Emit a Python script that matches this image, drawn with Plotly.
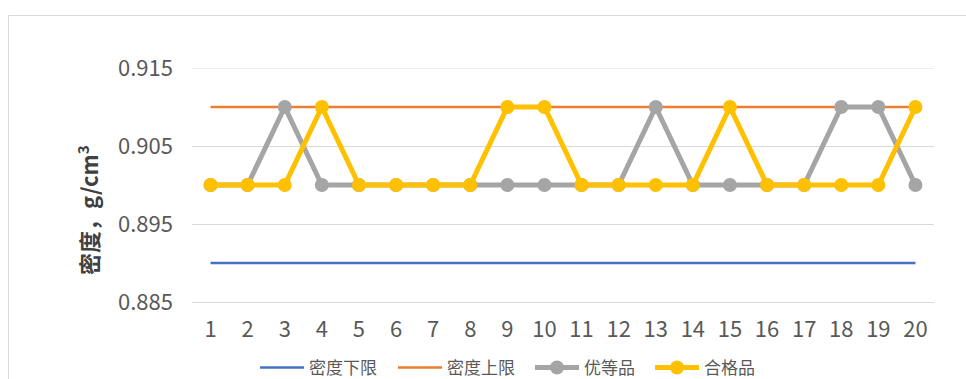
import plotly.graph_objects as go

categories = [str(i) for i in range(1, 21)]
lower_limit = [0.890] * 20
upper_limit = [0.910] * 20
premium = [0.900, 0.900, 0.910, 0.900, 0.900, 0.900, 0.900, 0.900, 0.900, 0.900,
           0.900, 0.900, 0.910, 0.900, 0.900, 0.900, 0.900, 0.910, 0.910, 0.900]
qualified = [0.900, 0.900, 0.900, 0.910, 0.900, 0.900, 0.900, 0.900, 0.910, 0.910,
             0.900, 0.900, 0.900, 0.900, 0.910, 0.900, 0.900, 0.900, 0.900, 0.910]
y_ticks = [0.885, 0.895, 0.905, 0.915]
y_tick_text = ["0.885", "0.895", "0.905", "0.915"]

FONT = "Noto Sans CJK SC"
TXT = "#595959"

fig = go.Figure()
fig.add_trace(go.Scatter(x=categories, y=lower_limit, name="密度下限", mode="lines",
                         line=dict(color="#4472C4", width=2.5), legend="legend"))
fig.add_trace(go.Scatter(x=categories, y=upper_limit, name="密度上限", mode="lines",
                         line=dict(color="#ED7D31", width=2.5), legend="legend2"))
fig.add_trace(go.Scatter(x=categories, y=premium, name="优等品", mode="lines+markers",
                         line=dict(color="#A5A5A5", width=5),
                         marker=dict(color="#A5A5A5", size=14), legend="legend3"))
fig.add_trace(go.Scatter(x=categories, y=qualified, name="合格品", mode="lines+markers",
                         line=dict(color="#FFC000", width=5),
                         marker=dict(color="#FFC000", size=14), legend="legend4"))

L, R, T, B = 192, 32, 68, 77
W, H = 966, 379
pw, ph = W - L - R, H - T - B

def px(xp):
    return (xp - L) / pw

def py(yp):
    return (H - B - yp) / ph

def leg(xpix):
    return dict(orientation="h", x=px(xpix), xanchor="left", y=py(368), yanchor="middle",
                font=dict(size=17, color=TXT, family=FONT), itemwidth=44,
                bgcolor="rgba(0,0,0,0)")

fig.update_layout(
    width=W, height=H,
    margin=dict(l=L, r=R, t=T, b=B, autoexpand=False),
    paper_bgcolor="white", plot_bgcolor="white",
    font=dict(family=FONT, color=TXT, size=20),
    showlegend=True,
    legend=leg(255), legend2=leg(393), legend3=leg(530), legend4=leg(650),
    xaxis=dict(type="category", range=[-0.5, 19.5], showgrid=False, showline=True,
               linecolor="#D9D9D9", linewidth=1, ticks="", tickfont=dict(size=22, color=TXT),
               ticklabelstandoff=8, zeroline=False, fixedrange=True),
    yaxis=dict(range=[0.885, 0.915], tickvals=y_ticks, ticktext=y_tick_text, showgrid=True,
               gridcolor="#D9D9D9", gridwidth=1, zeroline=False, showline=False, ticks="",
               tickfont=dict(size=22, color=TXT), ticklabelstandoff=18),
    shapes=[
        dict(type="rect", xref="paper", yref="paper", x0=px(8.5), x1=px(1100), y0=py(600), y1=py(15.5),
             line=dict(color="#D9D9D9", width=1), fillcolor="rgba(0,0,0,0)", layer="below"),
        dict(type="line", xref="paper", yref="y", x0=0, x1=1, y0=0.915, y1=0.915,
             line=dict(color="#D9D9D9", width=1), layer="below"),
    ],
    annotations=[
        dict(text="<b>密度，g/cm<sup>3</sup></b>", xref="paper", yref="paper", x=px(87), y=py(210),
             xanchor="center", yanchor="middle", textangle=-90, showarrow=False,
             font=dict(size=22, color="#404040", family=FONT)),
    ],
)

fig.write_html("out.html")
